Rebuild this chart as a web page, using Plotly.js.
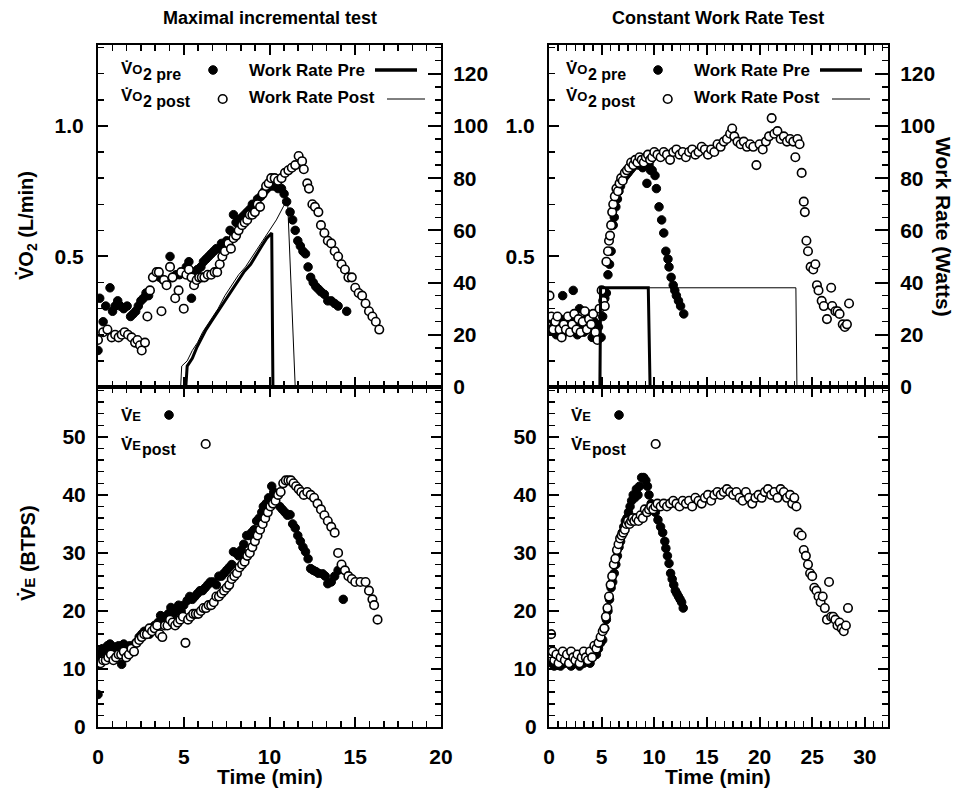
<!DOCTYPE html>
<html><head><meta charset="utf-8">
<script src="https://cdn.plot.ly/plotly-3.0.1.min.js"></script>
<style>html,body{margin:0;padding:0;background:#fff}#chart{width:960px;height:791px}</style>
</head><body><div id="chart"></div>
<script>
// ---------- DATA: Maximal incremental test ----------
const incVO2PreT = [0.0,0.1,0.3,0.45,0.7,0.85,1.0,1.15,1.3,1.5,1.7,1.9,2.05,2.2,2.35,2.5,2.65,2.8,2.95,3.4,3.6,3.8,4.0,4.2,4.35,4.55,4.75,4.95,5.15,5.3,5.45,5.6,5.8,6.0,6.15,6.3,6.45,6.6,6.75,6.9,7.05,7.2,7.35,7.5,7.7,7.9,8.05,8.2,8.4,8.55,8.7,8.85,9.0,9.15,9.3,9.5,9.7,9.85,10.0,10.15,10.3,10.5,10.7,10.85,11.0,11.2,11.35,11.5,11.65,11.8,11.95,12.1,12.25,12.4,12.55,12.7,12.85,13.0,13.2,13.4,13.6,13.8,14.0,14.5];
const incVO2Pre  = [0.14,0.34,0.25,0.31,0.38,0.29,0.31,0.33,0.31,0.30,0.31,0.27,0.28,0.29,0.31,0.33,0.34,0.36,0.35,0.43,0.42,0.41,0.40,0.50,0.42,0.43,0.43,0.44,0.46,0.48,0.34,0.44,0.45,0.46,0.48,0.49,0.50,0.51,0.52,0.53,0.53,0.55,0.55,0.56,0.60,0.66,0.63,0.64,0.65,0.66,0.67,0.68,0.70,0.70,0.72,0.73,0.75,0.76,0.77,0.77,0.77,0.76,0.76,0.74,0.71,0.67,0.64,0.60,0.56,0.54,0.52,0.51,0.46,0.42,0.40,0.385,0.375,0.365,0.355,0.33,0.33,0.32,0.31,0.29];
const incVO2PostT = [0.0,0.3,0.55,0.8,1.0,1.2,1.38,1.55,1.75,1.96,2.16,2.3,2.45,2.55,2.74,2.88,3.03,3.2,3.42,3.55,3.7,3.85,4.0,4.2,4.35,4.5,4.7,4.85,5.0,5.15,5.3,5.45,5.6,5.75,5.9,6.05,6.2,6.4,6.6,6.8,6.95,7.1,7.25,7.4,7.6,7.75,7.9,8.05,8.2,8.4,8.55,8.7,8.85,9.0,9.15,9.3,9.45,9.6,9.8,9.95,10.1,10.3,10.5,10.7,10.9,11.1,11.3,11.5,11.7,11.9,12.0,12.2,12.3,12.5,12.65,12.85,13.0,13.2,13.4,13.6,13.8,14.0,14.2,14.4,14.6,14.8,15.0,15.2,15.4,15.6,15.8,16.0,16.2,16.4];
const incVO2Post  = [0.18,0.21,0.22,0.19,0.20,0.19,0.20,0.21,0.20,0.19,0.17,0.18,0.16,0.14,0.17,0.27,0.37,0.42,0.44,0.44,0.29,0.41,0.39,0.46,0.42,0.34,0.37,0.44,0.30,0.43,0.45,0.42,0.39,0.41,0.42,0.42,0.42,0.43,0.43,0.44,0.44,0.47,0.50,0.52,0.55,0.53,0.57,0.58,0.60,0.62,0.63,0.64,0.66,0.66,0.67,0.70,0.69,0.74,0.77,0.78,0.80,0.80,0.79,0.80,0.82,0.83,0.84,0.85,0.885,0.865,0.834,0.78,0.76,0.70,0.69,0.67,0.62,0.59,0.56,0.55,0.52,0.50,0.47,0.45,0.42,0.42,0.38,0.36,0.35,0.32,0.29,0.27,0.25,0.22];
const incWRPreT = [5.05,5.12,5.2,5.5,5.75,6.0,6.3,6.6,6.9,7.3,7.7,8.1,8.5,8.9,9.25,9.55,9.84,10.13,10.2];
const incWRPre  = [0,0,8,11,15,18,22,25,28,32,35.5,40,44,47,51,54,57,59,0];
const incWRPostT = [4.78,4.82,4.88,5.2,5.5,5.8,6.1,6.4,6.7,7.0,7.4,7.8,8.2,8.6,9.0,9.4,9.8,10.1,10.4,10.8,11.05,11.5];
const incWRPost  = [0,0,8,10,14,17,21,24,27,30,35,39,43,46,50,54,58,61,64,69,72,0];
const incVEPreT = [0.0,0.1,0.25,0.4,0.55,0.7,0.85,1.0,1.2,1.38,1.5,1.7,1.85,2.0,2.2,2.4,2.55,2.7,2.85,3.0,3.15,3.3,3.5,3.65,3.8,3.95,4.1,4.25,4.4,4.55,4.7,4.85,5.0,5.2,5.35,5.5,5.65,5.8,5.95,6.1,6.25,6.4,6.55,6.7,6.9,7.05,7.2,7.35,7.5,7.65,7.8,7.9,8.05,8.2,8.35,8.5,8.67,8.8,8.95,9.1,9.25,9.4,9.55,9.64,9.8,9.95,10.13,10.25,10.4,10.6,10.75,10.9,11.05,11.2,11.35,11.5,11.65,11.8,11.95,12.1,12.25,12.4,12.55,12.7,12.85,13.1,13.25,13.4,13.6,13.8,14.0,14.3];
const incVEPre  = [5.6,12.5,13.5,13,14,14.3,13.5,13.8,14,10.8,14.3,13.5,14,13.5,14.5,15.5,16,16.5,16.2,16,17,17.5,18,19.2,19,18.5,19.5,20.6,19.5,20,21,19.9,21,21.8,22.5,22,22.5,23,23.5,23.5,24,24.5,25,25,24.5,26,26,26.5,27,27.5,28,30.2,30,29.5,30.5,31.5,33,33,33.5,34,35.5,36,37,38,38.5,39.5,41.5,40.5,40,38,37.5,37,36.5,36.6,35,34.3,33,32,31,30.2,29,27.3,27,26.8,26.5,26.4,26,24.7,25,26,27,22];
const incVEPostT = [0.0,0.15,0.3,0.45,0.6,0.75,0.9,1.05,1.2,1.35,1.5,1.65,1.8,1.95,2.1,2.25,2.4,2.55,2.7,2.85,3.0,3.15,3.3,3.45,3.6,3.75,3.9,4.05,4.2,4.35,4.5,4.65,4.8,4.95,5.1,5.25,5.4,5.55,5.7,5.85,6.0,6.15,6.3,6.45,6.6,6.75,6.9,7.05,7.2,7.35,7.5,7.65,7.8,7.95,8.1,8.25,8.4,8.55,8.7,8.85,9.0,9.15,9.3,9.45,9.6,9.75,9.9,10.05,10.2,10.35,10.5,10.65,10.8,10.95,11.1,11.25,11.4,11.55,11.7,11.85,12.0,12.2,12.4,12.6,12.8,13.0,13.2,13.4,13.6,13.8,14.0,14.2,14.4,14.6,14.8,15.0,15.3,15.6,15.8,16.0,16.1,16.3];
const incVEPost  = [11,11,11.5,11.5,12,12.5,11.5,12,12.5,12.5,13,12,12.5,13.5,13,14.5,15,15.5,16,16,17,16.5,17,17.5,16,15.5,17.5,17.5,18.5,18,17.5,18,18.5,19,14.5,18.5,19,19.5,19.5,19.5,20,20.5,20.5,21,21,21.5,22.5,22.5,23,23.5,24,24.5,25.5,26,26.5,27.5,28,28.5,29.5,30,31,32,33,34,35,36,37,38,38.5,39,40,40.5,42,42.5,42.5,42.5,42,41.5,41,40.5,40,40.5,40,39.5,38.5,37.5,36.5,35.5,34.5,33.5,30,28,27,26,25.5,25,25,25,23.5,22,21,18.5];

// ---------- DATA: Constant Work Rate Test ----------
const cwrVO2PreT = [0.1,0.3,0.5,0.7,0.9,1.1,1.3,1.5,1.7,1.9,2.1,2.3,2.5,2.7,2.9,3.1,3.3,3.5,3.7,3.9,4.1,4.3,4.5,4.7,4.95,5.1,5.3,5.45,5.6,5.75,5.9,6.1,6.2,6.35,6.5,6.65,6.8,6.95,7.1,7.3,7.5,7.7,7.9,8.1,8.3,8.5,8.7,8.9,9.1,9.3,9.5,9.65,9.8,10.07,10.2,10.45,10.7,10.9,11.1,11.3,11.4,11.6,11.8,11.95,12.1,12.3,12.5,12.8];
const cwrVO2Pre  = [0.22,0.26,0.24,0.20,0.23,0.26,0.35,0.21,0.24,0.22,0.27,0.37,0.25,0.20,0.30,0.24,0.21,0.26,0.28,0.23,0.19,0.25,0.24,0.23,0.19,0.27,0.34,0.36,0.43,0.47,0.52,0.62,0.65,0.69,0.72,0.75,0.77,0.79,0.80,0.81,0.82,0.83,0.84,0.85,0.86,0.85,0.86,0.84,0.86,0.78,0.85,0.83,0.83,0.81,0.76,0.69,0.64,0.59,0.52,0.49,0.46,0.42,0.39,0.37,0.35,0.33,0.31,0.28];
const cwrVO2PostT = [0.05,0.2,0.4,0.6,0.8,1.0,1.2,1.4,1.6,1.8,2.0,2.2,2.4,2.6,2.8,3.0,3.2,3.4,3.6,3.8,4.0,4.2,4.4,4.6,4.8,5.0,5.15,5.3,5.45,5.6,5.7,5.8,5.9,6.0,6.1,6.25,6.4,6.55,6.7,6.85,7.0,7.2,7.4,7.6,7.8,8.0,8.2,8.4,8.6,8.8,9.0,9.2,9.4,9.6,9.8,10.0,10.3,10.6,10.9,11.2,11.5,11.8,12.1,12.4,12.7,13.0,13.3,13.6,13.9,14.2,14.5,14.8,15.1,15.4,15.7,16.0,16.3,16.6,16.9,17.2,17.4,17.6,17.9,18.2,18.5,18.8,19.1,19.4,19.7,20.0,20.3,20.6,20.9,21.15,21.4,21.7,22.0,22.3,22.6,22.9,23.2,23.4,23.6,23.8,24.0,24.2,24.3,24.45,24.6,24.85,25.1,25.3,25.45,25.6,25.9,26.1,26.4,26.8,26.9,27.2,27.4,27.6,27.9,28.1,28.3,28.5];
const cwrVO2Post  = [0.35,0.27,0.22,0.25,0.27,0.22,0.19,0.24,0.22,0.27,0.21,0.24,0.28,0.22,0.26,0.21,0.25,0.29,0.22,0.26,0.24,0.28,0.21,0.18,0.30,0.37,0.33,0.31,0.48,0.52,0.56,0.58,0.62,0.67,0.70,0.73,0.76,0.75,0.78,0.80,0.79,0.82,0.83,0.84,0.86,0.85,0.87,0.86,0.88,0.87,0.86,0.88,0.89,0.87,0.88,0.90,0.89,0.88,0.90,0.89,0.87,0.90,0.91,0.89,0.90,0.88,0.90,0.91,0.89,0.90,0.92,0.91,0.89,0.91,0.90,0.93,0.92,0.94,0.95,0.97,0.99,0.96,0.94,0.93,0.94,0.92,0.93,0.92,0.85,0.93,0.91,0.94,0.96,1.03,0.97,0.98,0.95,0.96,0.94,0.95,0.94,0.88,0.95,0.93,0.82,0.71,0.67,0.56,0.52,0.46,0.45,0.47,0.39,0.37,0.33,0.31,0.26,0.38,0.31,0.29,0.29,0.28,0.24,0.23,0.24,0.32];
const cwrWRPreT = [4.84,4.9,9.43,9.6];
const cwrWRPre  = [0,38,38,0];
const cwrWRPostT = [4.78,4.82,23.45,23.55];
const cwrWRPost  = [0,38,38,0];
const cwrVEPreT = [0.1,0.3,0.5,0.7,0.9,1.1,1.3,1.5,1.7,1.9,2.1,2.3,2.5,2.7,2.9,3.1,3.3,3.5,3.7,3.9,4.1,4.3,4.5,4.7,4.9,5.1,5.3,5.45,5.6,5.75,5.9,6.05,6.2,6.35,6.5,6.65,6.8,6.95,7.1,7.25,7.4,7.55,7.7,7.85,8.0,8.15,8.3,8.45,8.6,8.8,9.0,9.2,9.35,9.5,9.7,9.9,10.1,10.35,10.6,10.8,11.0,11.1,11.25,11.4,11.55,11.7,11.85,12.0,12.15,12.3,12.45,12.6,12.75];
const cwrVEPre  = [12,11,10.5,12,11,10.5,12.5,11,12,11.5,10.5,12,11,11.5,10.5,12,11,11.5,12.5,11,12,13,12.5,13.5,14.5,15,17,18.5,20,22,24,25,26.5,28,29.5,31,32,33.5,34.5,35.5,36,37,38,39,40,39.5,41,40,41.5,43,43,42.5,41.5,40,38.5,38,37,35.7,34.5,33.5,32,30.8,29.5,28.2,26.5,25.5,24.5,23.5,23,22.5,22,21.5,20.5];
const cwrVEPostT = [0.1,0.2,0.35,0.5,0.7,0.9,1.1,1.3,1.5,1.7,1.9,2.1,2.3,2.5,2.7,2.9,3.1,3.3,3.5,3.7,3.9,4.1,4.3,4.5,4.7,4.9,5.1,5.25,5.4,5.55,5.7,5.85,6.0,6.15,6.3,6.45,6.6,6.75,6.9,7.05,7.2,7.35,7.5,7.65,7.8,7.95,8.1,8.3,8.5,8.7,8.9,9.1,9.3,9.5,9.7,9.9,10.1,10.3,10.6,10.9,11.2,11.5,11.8,12.1,12.4,12.7,13.0,13.3,13.6,13.9,14.2,14.5,14.8,15.1,15.4,15.7,16.0,16.3,16.6,16.9,17.2,17.5,17.8,18.1,18.4,18.7,19.0,19.3,19.6,19.9,20.2,20.5,20.8,21.1,21.4,21.7,22.0,22.3,22.6,22.9,23.1,23.3,23.5,23.7,24.0,24.2,24.4,24.6,24.8,25.0,25.2,25.4,25.6,25.8,26.0,26.2,26.4,26.6,26.8,27.0,27.2,27.4,27.6,27.8,28.0,28.2,28.4];
const cwrVEPost  = [12,16,13,11.5,12.5,11,12,13,11.5,12.5,11,13,12,11.5,12.5,11,12,13,12,11.5,13,12,14,13.5,14.5,15.5,16.5,17,19,20.5,22.5,24.5,26,28,29,30.5,31.5,32.5,33,33.5,34,35,35.5,35,35.5,36,35.5,36,35.5,36.5,36,37.5,37,37.5,38,37.5,38,38.5,38,38.5,38,38.5,39,38.5,38,39,38.5,39,38,39.5,39,38.5,39.5,40,39,40,40.5,40,40.5,41,40.5,40,40.5,39.5,39,40.5,39.5,38.5,39.5,40,39.5,40.5,41,40,40.5,39.5,41,40.5,39.5,40,38.5,39.5,38,33.5,33,30.5,29.5,28,26.5,26,24,23.5,22.5,21.5,22.5,20.5,18.5,25,19,19,18.5,17.5,18,17,16.5,17.5,20.5];

// ---------- LAYOUT HELPERS ----------
const W = 960, H = 791;
const FAM = 'Liberation Sans, Arial, Helvetica, sans-serif';
const px = x => x / W;
const py = y => 1 - y / H;
const LX = [px(98), px(441)];
const RX = [px(549), px(888)];
const TOPY = [py(387), py(45)];
const BOTY = [py(727), py(387)];
const tf = {family: FAM, size: 21, color: '#000', weight: 'bold'};

function axis(extra, minorDtick) {
  return Object.assign({
    showline: true, linecolor: '#000', linewidth: 2,
    ticks: 'inside', ticklen: 10, tickwidth: 2, tickcolor: '#000',
    showgrid: false, zeroline: false, fixedrange: true,
    tickfont: tf, ticklabelstandoff: 6,
    minor: {ticks: 'inside', ticklen: 6, tickwidth: 1.5, tickcolor: '#000', showgrid: false, tick0: 0, dtick: minorDtick}
  }, extra);
}
const vo2Ax = (anchor) => axis({domain: TOPY, range: [0, 1.31], anchor: anchor, tickmode: 'linear', tick0: 0, dtick: 0.5, tickformat: '.1f', labelalias: {'0.0': ' '}, mirror: false, ticklabelstandoff: 8}, 0.1);
const wrAx = (anchor, over) => axis({domain: TOPY, range: [0, 131], anchor: anchor, overlaying: over, side: 'right', tickmode: 'linear', tick0: 0, dtick: 20, ticklen: 13}, 5);
const veAx = (anchor) => axis({domain: BOTY, range: [0, 58.6], anchor: anchor, tickmode: 'linear', tick0: 0, dtick: 10, mirror: 'ticks'}, 2);
const xTop = (dom, rng, anchor) => axis({domain: dom, range: rng, anchor: anchor, tickmode: 'linear', tick0: 0, dtick: 5, showticklabels: false, mirror: 'ticks'}, 5/6);
const xBot = (dom, rng, anchor) => axis({domain: dom, range: rng, anchor: anchor, tickmode: 'linear', tick0: 0, dtick: 5, mirror: 'ticks', ticklabelstandoff: 10}, 5/6);

const filled = {color: '#000', size: 8.5, line: {color: '#000', width: 1}};
const open = {color: '#fff', size: 8.5, line: {color: '#000', width: 1.6}};
function pts(x, y, xa, ya, mk) {
  return {type: 'scatter', mode: 'markers', x: x, y: y, xaxis: xa, yaxis: ya, marker: mk};
}
function ln(x, y, xa, ya, w) {
  return {type: 'scatter', mode: 'lines', x: x, y: y, xaxis: xa, yaxis: ya, line: {color: '#000', width: w}};
}

const traces = [
  pts(incVO2PreT, incVO2Pre, 'x', 'y', filled),
  pts(incVO2PostT, incVO2Post, 'x', 'y', open),
  ln(incWRPreT, incWRPre, 'x', 'y2', 3),
  ln(incWRPostT, incWRPost, 'x', 'y2', 1),
  pts(incVEPreT, incVEPre, 'x2', 'y3', filled),
  pts(incVEPostT, incVEPost, 'x2', 'y3', open),
  pts(cwrVO2PreT, cwrVO2Pre, 'x3', 'y4', filled),
  pts(cwrVO2PostT, cwrVO2Post, 'x3', 'y4', open),
  ln(cwrWRPreT, cwrWRPre, 'x3', 'y5', 3),
  ln(cwrWRPostT, cwrWRPost, 'x3', 'y5', 1),
  pts(cwrVEPreT, cwrVEPre, 'x4', 'y6', filled),
  pts(cwrVEPostT, cwrVEPost, 'x4', 'y6', open)
];

function txt(x, y, text, size, opts) {
  return Object.assign({xref: 'paper', yref: 'paper', x: px(x), y: py(y), xanchor: 'left', yanchor: 'middle',
    text: text, showarrow: false, font: {family: FAM, size: size, color: '#000', weight: 'bold'}}, opts || {});
}
function dot(x, y, fill) {
  return {type: 'circle', xref: 'paper', yref: 'paper', xsizemode: 'pixel', ysizemode: 'pixel',
    xanchor: px(x), yanchor: py(y), x0: -4.3, x1: 4.3, y0: -4.3, y1: 4.3,
    fillcolor: fill ? '#000' : '#fff', line: {color: '#000', width: fill ? 1 : 1.6}};
}
function seg(x0, x1, y, w) {
  return {type: 'line', xref: 'paper', yref: 'paper', x0: px(x0), x1: px(x1), y0: py(y), y1: py(y), line: {color: '#000', width: w}};
}

const ann = [];
const shapes = [];
[0, 445].forEach(dx => {
  ann.push(txt(119 + dx, 68, 'V\u0307<span style="font-size:13px">O</span>', 17));
  ann.push(txt(141 + dx, 74, '2 pre', 16));
  ann.push(txt(119 + dx, 96, 'V\u0307<span style="font-size:13px">O</span>', 17));
  ann.push(txt(141 + dx, 102, '2 post', 16));
  ann.push(txt(247 + dx, 70, 'Work Rate Pre', 17));
  ann.push(txt(247 + dx, 98, 'Work Rate Post', 17));
  shapes.push(dot(213 + dx, 70, true));
  shapes.push(dot(222.7 + dx, 99, false));
  shapes.push(seg(375 + dx, 417 + dx, 70, 3.5));
  shapes.push(seg(387 + dx, 425 + dx, 99, 1));
});
[0, 450].forEach(dx => {
  ann.push(txt(119 + dx, 415, 'V\u0307<span style="font-size:13px">E</span>', 17));
  ann.push(txt(119 + dx, 444, 'V\u0307<span style="font-size:13px">E</span>', 17));
  ann.push(txt(140 + dx, 449, 'post', 16));
  shapes.push(dot(169 + dx, 415, true));
  shapes.push(dot(205.7 + dx, 444, false));
});
ann.push(txt(269.5, 18, 'Maximal incremental test', 18, {xanchor: 'center'}));
ann.push(txt(718, 18, 'Constant Work Rate Test', 18, {xanchor: 'center'}));
ann.push(txt(269.5, 776, 'Time (min)', 21, {xanchor: 'center'}));
ann.push(txt(718, 776, 'Time (min)', 21, {xanchor: 'center'}));
ann.push(txt(27, 226, 'V\u0307O<sub>2</sub> (L/min)', 20, {xanchor: 'center', textangle: -90}));
ann.push(txt(27, 553, 'V\u0307<span style="font-size:15px">E</span> (BTPS)', 20, {xanchor: 'center', textangle: -90}));
ann.push(txt(944, 227, 'Work Rate (Watts)', 21, {xanchor: 'center', textangle: 90}));

const layout = {
  width: W, height: H,
  margin: {l: 0, r: 0, t: 0, b: 0, autoexpand: false},
  paper_bgcolor: '#fff', plot_bgcolor: '#fff',
  showlegend: false, hovermode: false,
  font: {family: FAM, color: '#000'},
  xaxis: xTop(LX, [0, 20], 'y'), yaxis: vo2Ax('x'), yaxis2: wrAx('x', 'y'),
  xaxis2: xBot(LX, [0, 20], 'y3'), yaxis3: veAx('x2'),
  xaxis3: xTop(RX, [0, 32.2], 'y4'), yaxis4: vo2Ax('x3'), yaxis5: wrAx('x3', 'y4'),
  xaxis4: xBot(RX, [0, 32.2], 'y6'), yaxis6: veAx('x4')
};

Plotly.newPlot('chart', traces, layout, {staticPlot: true, displayModeBar: false}).then(gd => {
  return Plotly.relayout(gd, {annotations: ann, shapes: shapes});
}).then(gd => {
  gd.querySelectorAll('.ytick text, .y4tick text').forEach(t => { if (t.textContent.trim() === '0.0') t.style.display = 'none'; });
});
</script></body></html>
